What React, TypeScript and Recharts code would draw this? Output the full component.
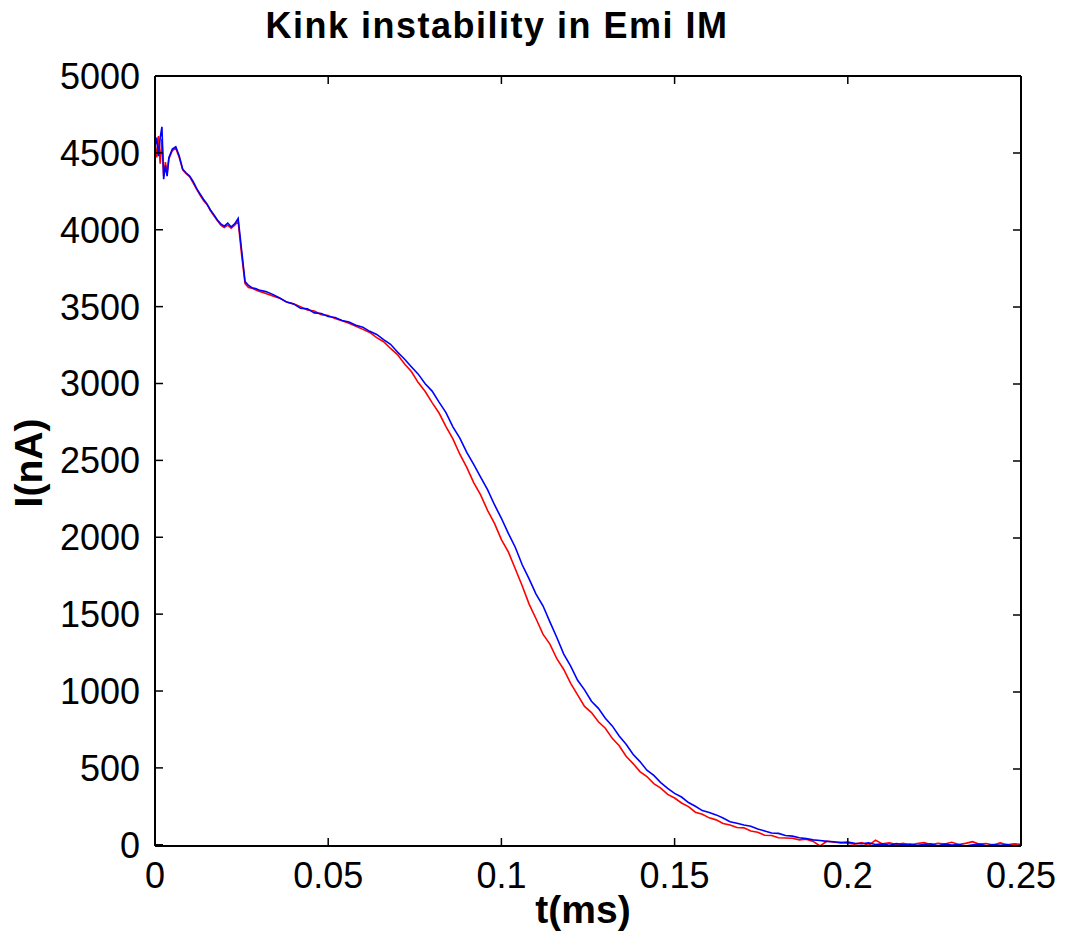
import { Line, LineChart, XAxis, YAxis } from "recharts";

// time in ms
const times = [
  0, 0.0005, 0.001, 0.0015, 0.002, 0.0025, 0.003, 0.0035, 0.004,
  0.005, 0.006, 0.007, 0.008, 0.009, 0.01, 0.011, 0.012, 0.013, 0.014, 0.015,
  0.016, 0.017, 0.018, 0.019, 0.02, 0.021, 0.022, 0.023, 0.024, 0.025,
  0.026, 0.027, 0.028, 0.029, 0.03,
  0.032, 0.034, 0.036, 0.038, 0.04, 0.042, 0.044, 0.046, 0.048, 0.05,
  0.052, 0.054, 0.056, 0.058, 0.06, 0.062, 0.064, 0.066, 0.068, 0.07,
  0.072, 0.074, 0.076, 0.078, 0.08, 0.082, 0.084, 0.086, 0.088, 0.09,
  0.092, 0.094, 0.096, 0.098, 0.1, 0.102, 0.104, 0.106, 0.108, 0.11,
  0.112, 0.114, 0.116, 0.118, 0.12, 0.122, 0.124, 0.126, 0.128, 0.13,
  0.132, 0.134, 0.136, 0.138, 0.14, 0.142, 0.144, 0.146, 0.148, 0.15,
  0.152, 0.154, 0.156, 0.158, 0.16, 0.162, 0.164, 0.166, 0.168, 0.17,
  0.172, 0.174, 0.176, 0.178, 0.18, 0.182, 0.184, 0.186, 0.188, 0.19,
  0.192, 0.194, 0.196, 0.198, 0.2, 0.202, 0.204, 0.206, 0.208, 0.21,
  0.212, 0.214, 0.216, 0.218, 0.22, 0.222, 0.224, 0.226, 0.228, 0.23,
  0.232, 0.234, 0.236, 0.238, 0.24, 0.242, 0.244, 0.246, 0.248, 0.25,
];

// current in nA
const redCurrent = [
  4560, 4470, 4610, 4430, 4590, 4350, 4440, 4370, 4460,
  4515, 4530, 4470, 4390, 4365, 4345, 4305, 4265, 4225, 4190, 4165,
  4125, 4090, 4060, 4030, 4015, 4030, 4010, 4030, 4055, 3840,
  3650, 3625, 3620, 3610, 3600,
  3585, 3570, 3555, 3530, 3518, 3500, 3478, 3472, 3448, 3442,
  3422, 3408, 3392, 3372, 3352, 3332, 3298, 3272, 3228, 3188,
  3128, 3078, 3006, 2948, 2876, 2808, 2720, 2640, 2540, 2455,
  2355, 2275, 2175, 2090, 1985, 1905, 1795, 1685, 1565, 1470,
  1370, 1305, 1210, 1140, 1050, 975, 900, 860, 800, 758,
  692, 644, 576, 528, 476, 444, 398, 368, 328, 304,
  272, 248, 212, 198, 175, 162, 138, 128, 112, 110,
  90, 82, 62, 60, 46, 44, 42, 32, 36, 22,
  -8, 24, 16, 14, 10, 4, 14, -4, 30, 6,
  12, 2, 10, -2, 8, 14, 0, 10, 5, 16,
  2, 9, 20, 4, 8, -2, 12, 0, 6, 3,
];

const blueCurrent = [
  4540, 4600, 4480, 4600, 4670, 4330, 4420, 4350, 4470,
  4525, 4540, 4480, 4395, 4370, 4350, 4315, 4270, 4235, 4200, 4170,
  4130, 4100, 4065, 4040, 4025, 4045, 4020, 4040, 4075, 3870,
  3665, 3640, 3625, 3620, 3610,
  3600, 3582, 3558, 3532, 3520, 3492, 3488, 3462, 3458, 3438,
  3432, 3412, 3402, 3382, 3368, 3342, 3322, 3288, 3258, 3208,
  3162, 3112, 3064, 3002, 2954, 2882, 2814, 2722, 2648, 2556,
  2478, 2396, 2314, 2216, 2128, 2030, 1940, 1826, 1734, 1636,
  1560, 1455, 1354, 1246, 1168, 1076, 1014, 940, 894, 830,
  780, 714, 660, 596, 548, 492, 458, 412, 374, 342,
  318, 282, 258, 230, 218, 202, 182, 158, 148, 136,
  128, 110, 98, 84, 82, 68, 64, 54, 48, 40,
  36, 30, 28, 22, 26, 18, 15, 20, 10, 14,
  5, 16, 8, 12, 4, 10, 15, 2, 12, 6,
  10, 0, 8, 12, 2, 10, 4, 9, 0, 6,
];

const xTicks = [0, 0.05, 0.1, 0.15, 0.2, 0.25];
const yTicks = [0, 500, 1000, 1500, 2000, 2500, 3000, 3500, 4000, 4500, 5000];

const data = times.map((t, i) => ({ t, red: redCurrent[i], blue: blueCurrent[i] }));

const font = "'Liberation Sans', Arial, Helvetica, sans-serif";
const frame = { stroke: "#000", strokeWidth: 2 };
const TICK = 8; // inward tick length
const GAP_Y = 15; // y label gap from frame
const GAP_X = 16; // x label gap from frame

// MATLAB-style ticks: short marks pointing into the plot, label outside
function LeftTick(props: any) {
  const { x, y, payload } = props;
  const edge = x + GAP_Y;
  return (
    <g>
      <line x1={edge} x2={edge + TICK} y1={y} y2={y} stroke="#000" strokeWidth={1.5} />
      <text x={x} y={y} dy="0.36em" textAnchor="end" fontSize={36} fontFamily={font} fill="#000">
        {payload.value}
      </text>
    </g>
  );
}

function BottomTick(props: any) {
  const { x, y, payload } = props;
  const edge = y - GAP_X;
  return (
    <g>
      <line x1={x} x2={x} y1={edge} y2={edge - TICK} stroke="#000" strokeWidth={1.5} />
      <text x={x} y={y} dy="0.72em" textAnchor="middle" fontSize={36} fontFamily={font} fill="#000">
        {payload.value}
      </text>
    </g>
  );
}

function RightTick(props: any) {
  const { x, y } = props;
  return <line x1={x} x2={x - TICK} y1={y} y2={y} stroke="#000" strokeWidth={1.5} />;
}

function TopTick(props: any) {
  const { x, y } = props;
  return <line x1={x} x2={x} y1={y} y2={y + TICK} stroke="#000" strokeWidth={1.5} />;
}

export default function App() {
  return (
    <div style={{ position: "absolute", left: 0, top: 0, width: 1065, height: 938, background: "#fff", fontFamily: font }}>
      <div
        style={{
          position: "absolute",
          left: 0,
          width: 994,
          top: 6,
          textAlign: "center",
          fontSize: 36,
          fontWeight: "bold",
          letterSpacing: 1.5,
          lineHeight: "40px",
        }}
      >
        Kink instability in Emi IM
      </div>
      <div
        style={{
          position: "absolute",
          left: 483,
          width: 200,
          top: 888,
          textAlign: "center",
          fontSize: 39,
          fontWeight: "bold",
          lineHeight: "44px",
        }}
      >
        t(ms)
      </div>
      <div
        style={{
          position: "absolute",
          left: 29 - 100,
          top: 463 - 22,
          width: 200,
          textAlign: "center",
          fontSize: 39,
          fontWeight: "bold",
          lineHeight: "44px",
          transform: "rotate(-90deg)",
        }}
      >
        I(nA)
      </div>
      <LineChart
        width={1065}
        height={938}
        data={data}
        margin={{ top: 75, right: 43, bottom: 0, left: 0 }}
        style={{ position: "absolute", left: 0, top: 0 }}
      >
        <XAxis
          dataKey="t"
          type="number"
          domain={[0, 0.25]}
          ticks={xTicks}
          height={92}
          tickSize={0}
          tickMargin={GAP_X}
          axisLine={frame}
          tickLine={false}
          tick={BottomTick}
          interval={0}
        />
        <XAxis
          xAxisId="top"
          dataKey="t"
          orientation="top"
          type="number"
          domain={[0, 0.25]}
          ticks={xTicks}
          height={1}
          tickSize={0}
          tickMargin={0}
          axisLine={frame}
          tickLine={false}
          tick={TopTick}
          interval={0}
        />
        <YAxis
          type="number"
          domain={[0, 5000]}
          ticks={yTicks}
          width={155}
          tickSize={0}
          tickMargin={GAP_Y}
          axisLine={frame}
          tickLine={false}
          tick={LeftTick}
          interval={0}
        />
        <YAxis
          yAxisId="right"
          orientation="right"
          type="number"
          domain={[0, 5000]}
          ticks={yTicks}
          width={1}
          tickSize={0}
          tickMargin={0}
          axisLine={frame}
          tickLine={false}
          tick={RightTick}
          interval={0}
        />
        <Line type="linear" dataKey="red" stroke="#ff0000" strokeWidth={1.6} dot={false} isAnimationActive={false} />
        <Line
          type="linear"
          dataKey="blue"
          xAxisId="top"
          yAxisId="right"
          stroke="#0000ff"
          strokeWidth={1.6}
          dot={false}
          isAnimationActive={false}
        />
      </LineChart>
    </div>
  );
}
